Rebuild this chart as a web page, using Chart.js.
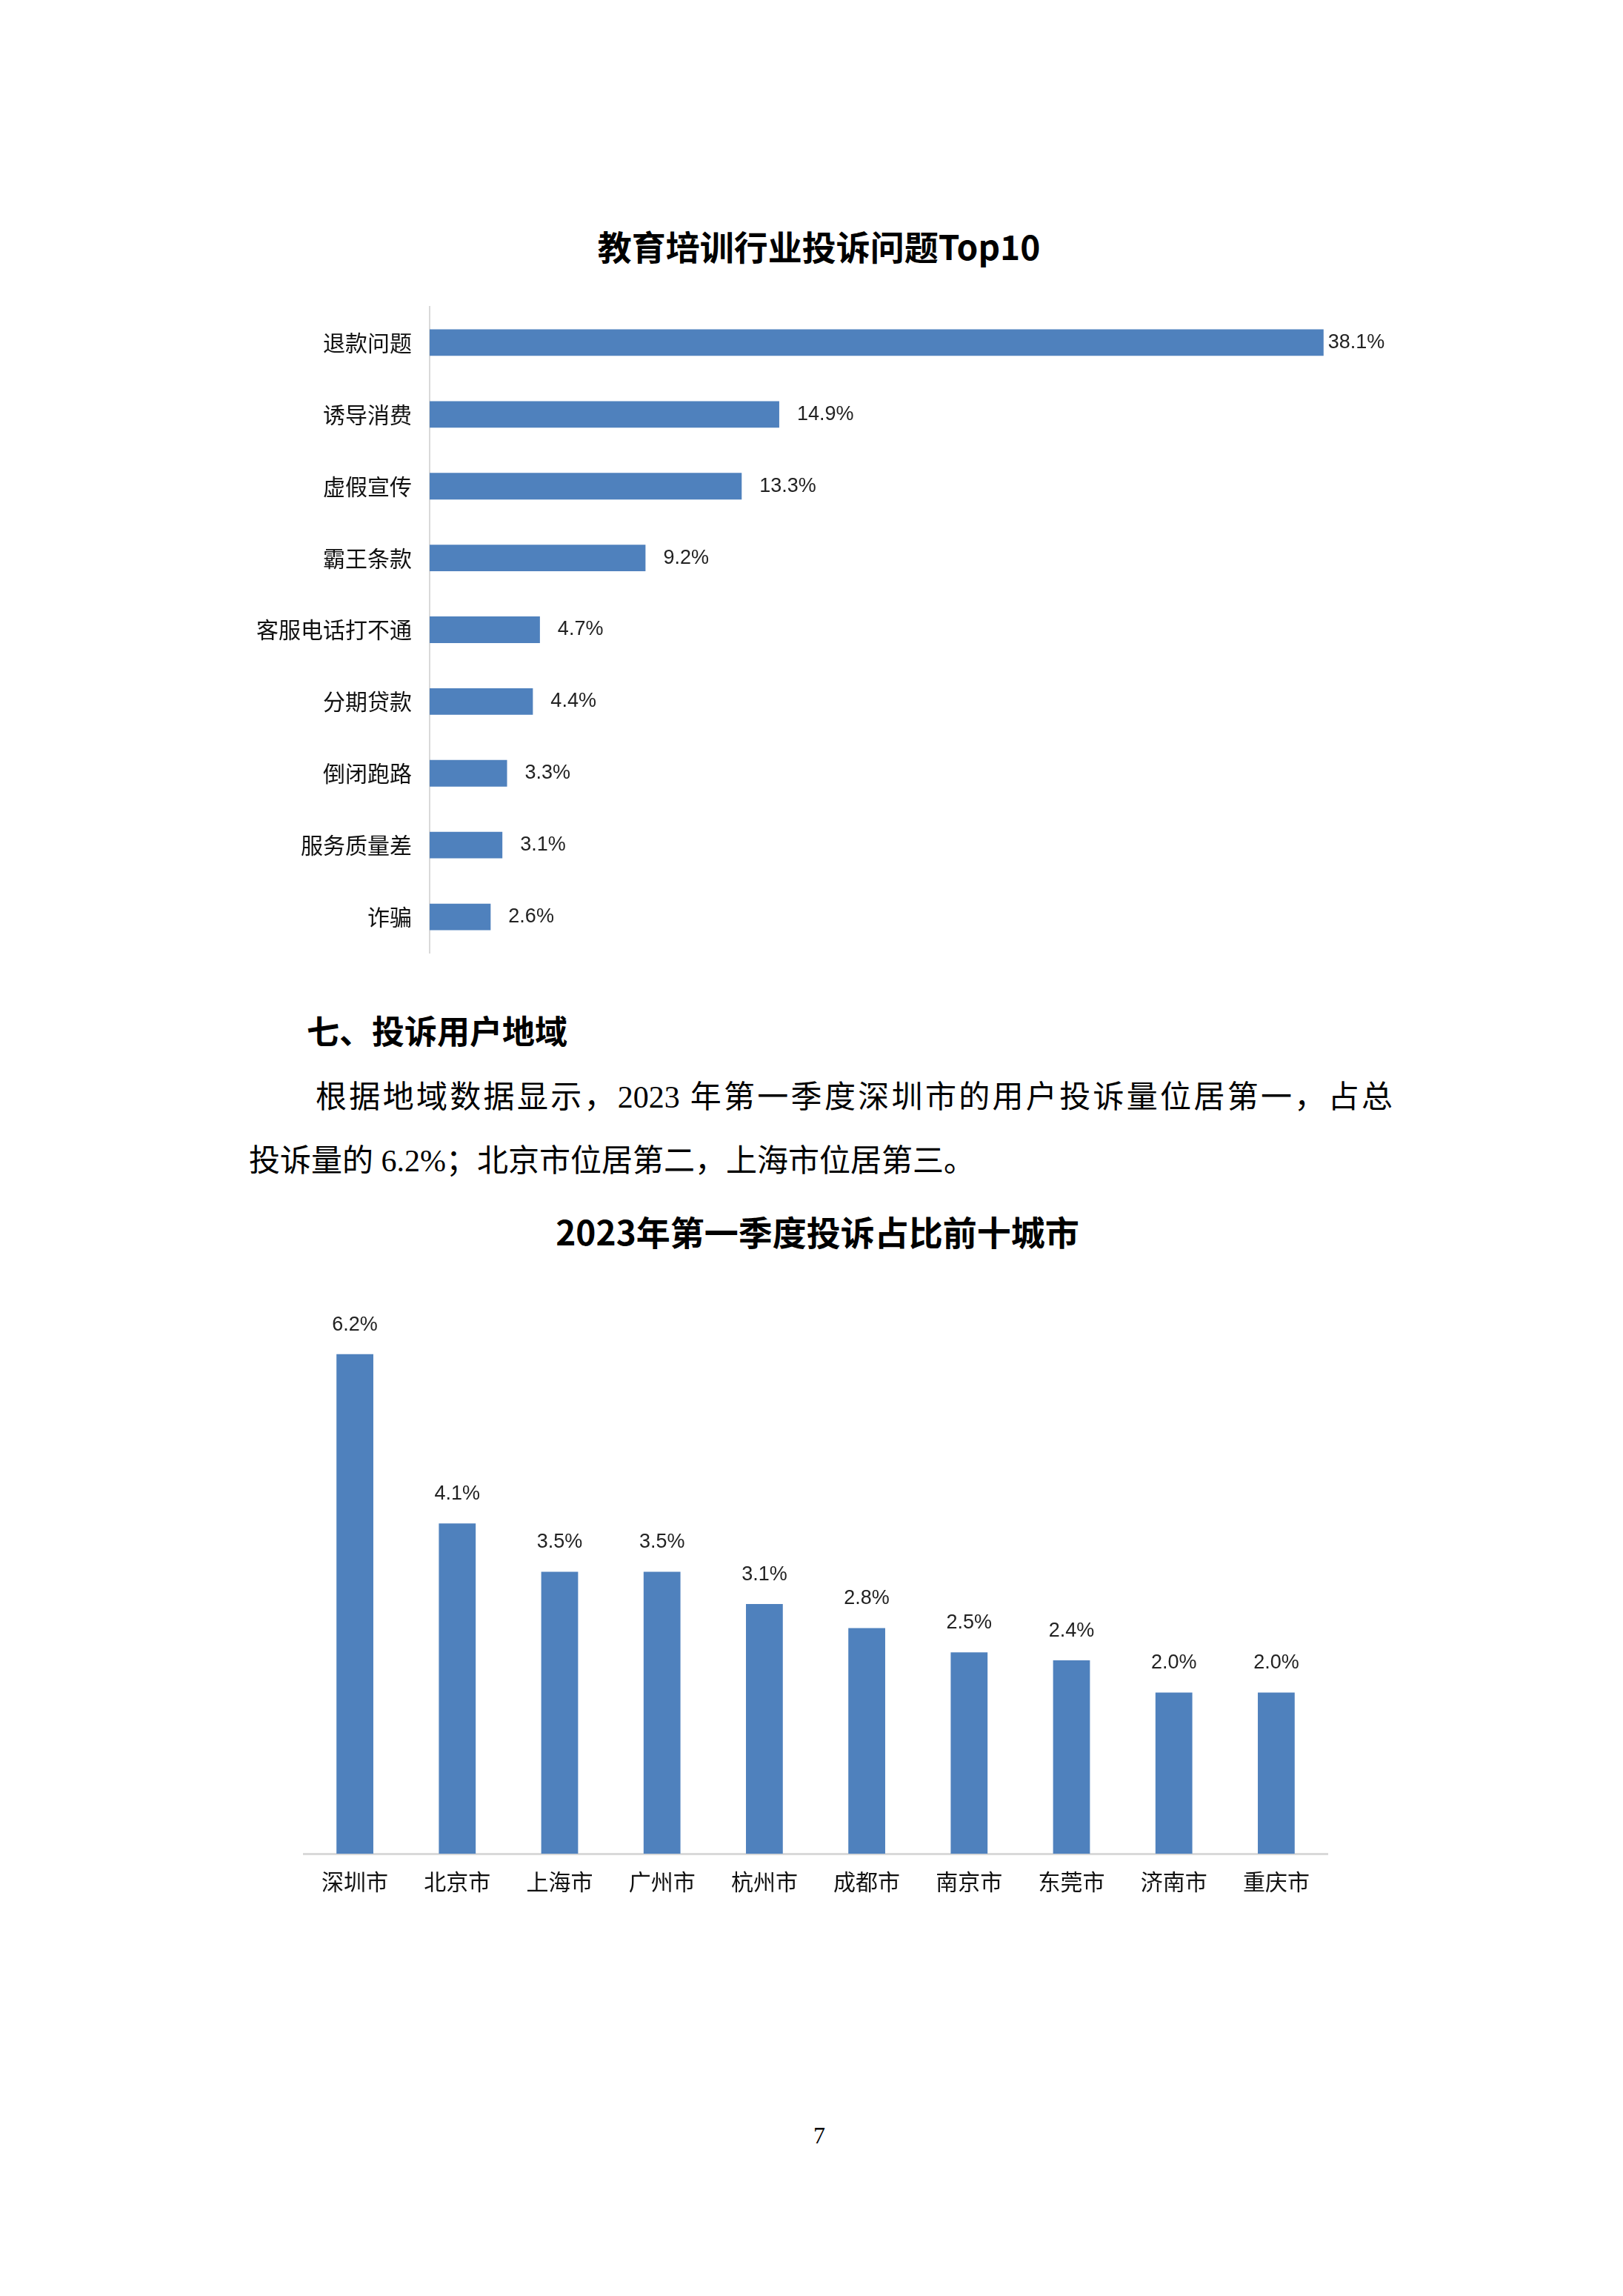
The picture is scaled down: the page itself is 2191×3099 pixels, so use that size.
<!DOCTYPE html>
<html>
<head>
<meta charset="utf-8">
<script src="https://cdn.jsdelivr.net/npm/chart.js@4/dist/chart.umd.min.js"></script>
<style>
  body { margin: 0; width: 2191px; height: 3099px; background: #fff; position: relative; font-family: "Noto Sans CJK SC", sans-serif; color: #000; }
  .abs { position: absolute; white-space: nowrap; }
  .title { font-size: 46px; font-weight: bold; width: 2191px; text-align: center; left: 0; }
  .para { font-size: 42px; font-family: "Liberation Serif", "Noto Sans CJK SC", serif; }
  canvas { position: absolute; }
</style>
</head>
<body>
<div class="abs title" style="top:298px; left:10px;">教育培训行业投诉问题Top10</div>
<div id="wrap1" style="position:absolute; left:300px; top:380px; width:1700px; height:940px;"><canvas id="chart-issues"></canvas></div>

<div class="abs" style="left:414px; top:1358px; font-size:44px; font-weight:bold;">七、投诉用户地域</div>
<div class="abs para" style="left:426px; top:1446px; width:1454px; white-space:normal; text-align:justify; text-align-last:justify;">根据地域数据显示，2023 年第一季度深圳市的用户投诉量位居第一，占总</div>
<div class="abs para" style="left:336px; top:1532px;">投诉量的 6.2%；北京市位居第二，上海市位居第三。</div>

<div class="abs title" style="top:1628px; left:8px;">2023年第一季度投诉占比前十城市</div>
<div id="wrap2" style="position:absolute; left:400px; top:1760px; width:1410px; height:860px;"><canvas id="chart-cities"></canvas></div>

<div class="abs" style="left:1098px; top:2864px; font-size:32px; font-family:'Liberation Serif', serif;">7</div>

<script>
const issueLabels = ["退款问题", "诱导消费", "虚假宣传", "霸王条款", "客服电话打不通", "分期贷款", "倒闭跑路", "服务质量差", "诈骗"];
const issueValues = [38.1, 14.9, 13.3, 9.2, 4.7, 4.4, 3.3, 3.1, 2.6];

const cityLabels = ["深圳市", "北京市", "上海市", "广州市", "杭州市", "成都市", "南京市", "东莞市", "济南市", "重庆市"];
const cityValues = [6.2, 4.1, 3.5, 3.5, 3.1, 2.8, 2.5, 2.4, 2.0, 2.0];

const BLUE = "#4f81bd";
const LABEL_FONT = "Liberation Sans Narrow, Liberation Sans, sans-serif";

// etiquetas de valor sobre/junto a las barras
const valueLabels = {
  id: "valueLabels",
  afterDatasetsDraw(chart) {
    const ctx = chart.ctx;
    const horizontal = chart.options.indexAxis === "y";
    const meta = chart.getDatasetMeta(0);
    ctx.save();
    ctx.fillStyle = "#222";
    ctx.font = "27px " + LABEL_FONT;
    meta.data.forEach((bar, i) => {
      const txt = chart.data.datasets[0].data[i].toFixed(1) + "%";
      if (horizontal) {
        ctx.textAlign = "left";
        ctx.textBaseline = "middle";
        ctx.fillText(txt, bar.x + (i === 0 ? 6 : 24), bar.y);
      } else {
        ctx.textAlign = "center";
        ctx.textBaseline = "bottom";
        ctx.fillText(txt, bar.x, bar.y - 26);
      }
    });
    ctx.restore();
  },
};

function renderIssues() {
  new Chart(document.getElementById("chart-issues"), {
    type: "bar",
    data: { labels: issueLabels, datasets: [{ data: issueValues, backgroundColor: BLUE }] },
    options: {
      indexAxis: "y",
      responsive: true,
      maintainAspectRatio: false,
      animation: false,
      layout: { padding: { top: 30, bottom: 30, right: 20 } },
      plugins: { legend: { display: false }, tooltip: { enabled: false } },
      datasets: { bar: { barPercentage: 0.37, categoryPercentage: 1 } },
      scales: {
        x: { display: false, min: 0, max: 44.2 },
        y: {
          grid: { display: false },
          border: { color: "#d9d9d9", width: 2 },
          ticks: { color: "#111", font: { size: 30, family: "Noto Sans CJK SC" }, padding: 16 },
          afterFit: (s) => { s.width = 280; },
        },
      },
    },
    plugins: [valueLabels],
  });
}

function renderCities() {
  new Chart(document.getElementById("chart-cities"), {
    type: "bar",
    data: { labels: cityLabels, datasets: [{ data: cityValues, backgroundColor: BLUE }] },
    options: {
      responsive: true,
      maintainAspectRatio: false,
      animation: false,
      layout: { padding: { top: 20, left: 10, right: 18 } },
      plugins: { legend: { display: false }, tooltip: { enabled: false } },
      datasets: { bar: { barPercentage: 0.36, categoryPercentage: 1 } },
      scales: {
        y: { display: false, min: 0, max: 6.64 },
        x: {
          grid: { display: false },
          border: { color: "#d9d9d9", width: 3 },
          ticks: { color: "#111", font: { size: 30, family: "Noto Sans CJK SC" }, padding: 12 },
          afterFit: (s) => { s.height = 118; },
        },
      },
    },
    plugins: [valueLabels],
  });
}

renderIssues();
renderCities();
</script>
</body>
</html>
